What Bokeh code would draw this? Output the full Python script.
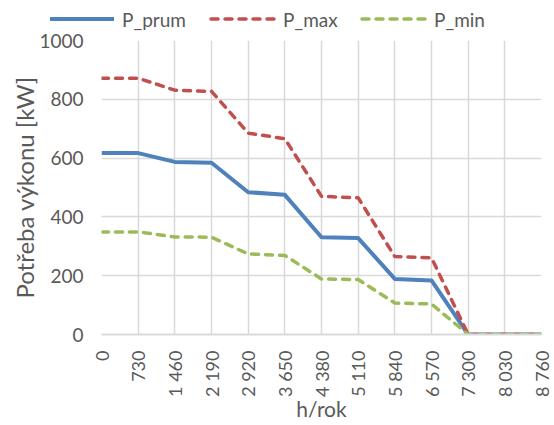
import math
from bokeh.plotting import figure
from bokeh.models import FixedTicker, Range1d, Div
from bokeh.layouts import column
from bokeh.embed import file_html
from bokeh.resources import INLINE

hours = [0, 730, 1460, 2190, 2920, 3650, 4380, 5110, 5840, 6570, 7300, 8030, 8760]
tick_labels = ["0", "730", "1 460", "2 190", "2 920", "3 650", "4 380", "5 110",
               "5 840", "6 570", "7 300", "8 030", "8 760"]
p_prum = [617, 617, 587, 584, 484, 475, 331, 328, 189, 184, 0, 0, 0]
p_max = [872, 872, 831, 827, 685, 666, 470, 465, 265, 261, 0, 0, 0]
p_min = [349, 349, 332, 331, 274, 269, 189, 187, 107, 104, 0, 0, 0]
y_ticks = [0, 200, 400, 600, 800, 1000]
series_names = ["P_prum", "P_max", "P_min"]

FONT = "Lato"
GREY = "#595959"
COLORS = ["#4F81BD", "#C0504D", "#9BBB59"]
DASHES = [None, "7 7", "7 7"]

p = figure(width=554, height=395, output_backend="svg", toolbar_location=None,
           x_range=Range1d(0, 8760), y_range=Range1d(0, 1000),
           min_border_left=101, min_border_right=13, min_border_top=10,
           min_border_bottom=91)
p.outline_line_color = None

p.line(hours, p_prum, line_color=COLORS[0], line_width=4, line_join="round")
p.line(hours, p_max, line_color=COLORS[1], line_width=3.5, line_dash=DASHES[1],
       line_cap="round", line_join="round")
p.line(hours, p_min, line_color=COLORS[2], line_width=3.5, line_dash=DASHES[2],
       line_cap="round", line_join="round")

p.xaxis.ticker = FixedTicker(ticks=hours)
p.xaxis.major_label_overrides = {h: t for h, t in zip(hours, tick_labels)}
p.xaxis.major_label_orientation = math.pi / 2
p.yaxis.ticker = FixedTicker(ticks=y_ticks)

for ax in (p.xaxis, p.yaxis):
    ax.major_tick_line_color = None
    ax.minor_tick_line_color = None
    ax.major_label_text_font = FONT
    ax.major_label_text_color = GREY
    ax.axis_label_text_font = FONT
    ax.axis_label_text_color = GREY
    ax.axis_label_text_font_style = "normal"

p.xaxis.major_label_text_font_size = "18px"
p.yaxis.major_label_text_font_size = "19px"
p.xaxis.axis_label_text_font_size = "21px"
p.yaxis.axis_label_text_font_size = "24px"
p.xaxis.major_label_standoff = 10
p.yaxis.major_label_standoff = 12

p.xaxis.axis_line_color = "#d9d9d9"
p.xaxis.axis_line_width = 2
p.yaxis.axis_line_color = None
p.xaxis.axis_label = "h/rok"
p.yaxis.axis_label = "Potřeba výkonu [kW]"
p.xaxis.axis_label_standoff = -4
p.yaxis.axis_label_standoff = -3

p.xgrid.grid_line_color = "#d9d9d9"
p.ygrid.grid_line_color = "#d9d9d9"
p.xgrid.grid_line_width = 1.5
p.ygrid.grid_line_width = 1.5

# legend strip on top (HTML, real text)
item_left = [48, 209, 360]
parts = []
for name, color, dash, left in zip(series_names, COLORS, DASHES, item_left):
    dash_attr = f' stroke-dasharray="{dash}" stroke-linecap="round"' if dash else ""
    sw = "4" if dash is None else "3.5"
    parts.append(
        f'<div style="position:absolute;left:{left}px;top:0;height:38px;display:flex;align-items:center;">'
        f'<svg width="68" height="20" style="display:block"><line x1="2" y1="10" x2="66" y2="10" '
        f'stroke="{color}" stroke-width="{sw}"{dash_attr}/></svg>'
        f'<span style="margin-left:6px;font-family:{FONT};font-size:19px;color:{GREY};line-height:1">{name}</span>'
        f'</div>'
    )
html = '<div style="position:relative;width:554px;height:30px;overflow:visible">' + "".join(parts) + "</div>"
lg = Div(text=html, width=554, height=30, margin=0)

open("out.html", "w").write(file_html(column(lg, p, spacing=0), INLINE))
